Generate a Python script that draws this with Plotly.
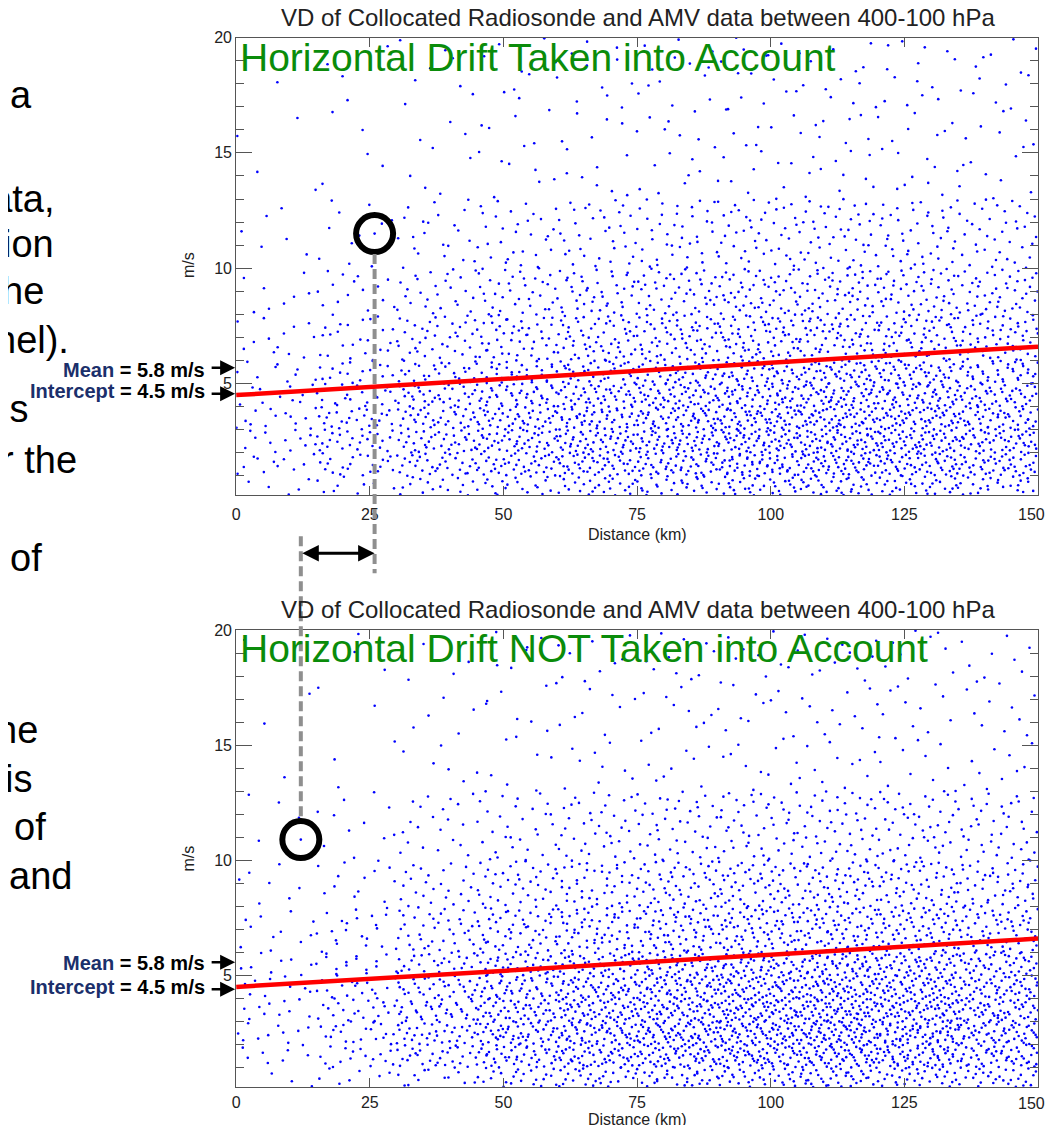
import plotly.graph_objects as go

# ---------------- data ----------------
# Density of the scatter clouds, counted per cell of the grid below
X_EDGES = [0, 15, 30, 45, 60, 75, 90, 105, 120, 135, 150]          # km
Y_EDGES = [0, 1, 2, 3, 4, 5, 6, 8, 10, 13, 20]                      # m/s

# rows = y bins (bottom -> top), columns = x bins (left -> right)
TOP_COUNTS = [
    [6, 11, 18, 24, 30, 33, 36, 38, 36, 30],
    [11, 22, 32, 40, 46, 50, 54, 56, 54, 46],
    [13, 25, 36, 45, 50, 54, 58, 60, 58, 50],
    [13, 25, 36, 44, 49, 53, 56, 58, 56, 48],
    [12, 22, 33, 40, 45, 48, 52, 54, 52, 45],
    [9, 17, 27, 34, 38, 42, 45, 47, 45, 40],
    [13, 24, 39, 50, 58, 63, 68, 70, 68, 60],
    [8, 15, 26, 35, 41, 46, 50, 52, 50, 44],
    [6, 12, 22, 30, 35, 40, 43, 45, 43, 38],
    [5, 9, 16, 22, 25, 28, 31, 33, 31, 28],
]
BOTTOM_COUNTS = [
    [4, 8, 16, 26, 33, 37, 40, 42, 40, 34],
    [8, 16, 30, 44, 52, 58, 62, 64, 60, 50],
    [10, 20, 35, 50, 58, 64, 68, 70, 66, 56],
    [10, 20, 35, 48, 56, 62, 66, 68, 64, 54],
    [9, 18, 32, 44, 52, 57, 61, 62, 59, 50],
    [8, 15, 27, 38, 44, 49, 52, 54, 51, 44],
    [11, 21, 38, 54, 63, 70, 75, 77, 73, 64],
    [7, 13, 25, 37, 44, 50, 54, 56, 53, 46],
    [5, 11, 21, 31, 37, 42, 46, 48, 45, 40],
    [4, 8, 15, 22, 26, 29, 32, 34, 32, 29],
]

# regression lines (distance km -> VD m/s)
FIT_X = [0, 150]
FIT_TOP = [4.5, 6.6]
FIT_BOTTOM = [4.5, 6.6]

# the highlighted (circled) collocation in each panel
HILITE_TOP_X, HILITE_TOP_Y = [25.9], [11.5]
HILITE_BOTTOM_X, HILITE_BOTTOM_Y = [12.1], [10.9]

X_TICKS = [0, 25, 50, 75, 100, 125, 150]
Y_TICKS = [5, 10, 15, 20]

TITLE = "VD of Collocated Radiosonde and AMV data between 400-100 hPa"
LABEL_TOP = "Horizontal Drift Taken into Account"
LABEL_BOTTOM = "Horizontal Drift NOT Taken into Account"
MEAN_TXT = "= 5.8 m/s"
INTERCEPT_TXT = "= 4.5 m/s"

# fragments of slide text visible at the left edge
LEFT_TEXT = [("a", 30, 97), ("data,", 53, 201), ("ion", 52, 246), ("he", 42, 293),
             ("nel).", 67, 342), ("is", 26, 411), ("r the", 75, 463), ("of", 40, 561),
             ("he", 36, 733), ("is", 30, 782), ("of", 44, 830), ("and", 70, 880)]

# ---------------- helpers ----------------
# the page body keeps its default 8px margin, so the figure is 16px smaller
OX, OY = 8, 8
FW, FH = 1040, 1117
def px(x):
    return (x - OX) / FW
def py(y):
    yd = y - 6.3 + 0.0048 * (y - 36)      # small vertical offset seen on screen
    return 1 - (yd - OY) / FH

def halton(i, b):
    f, r = 1.0, 0.0
    while i > 0:
        f /= b
        r += f * (i % b)
        i //= b
    return r

def cloud(counts, offset):
    xs, ys = [], []
    k = offset
    for j, row in enumerate(counts):
        for i, n in enumerate(row):
            for _ in range(n):
                k += 1
                xs.append(X_EDGES[i] + (X_EDGES[i + 1] - X_EDGES[i]) * halton(k, 2))
                ys.append(Y_EDGES[j] + (Y_EDGES[j + 1] - Y_EDGES[j]) * halton(k, 3))
    return xs, ys

FONT = "Liberation Sans, Arial, Helvetica, sans-serif"
BLUE = "#0000ff"

fig = go.Figure()

for counts, fit, hx, hy, xa, ya, off in [
    (TOP_COUNTS, FIT_TOP, HILITE_TOP_X, HILITE_TOP_Y, "x", "y", 17),
    (BOTTOM_COUNTS, FIT_BOTTOM, HILITE_BOTTOM_X, HILITE_BOTTOM_Y, "x2", "y2", 5003),
]:
    xs, ys = cloud(counts, off)
    fig.add_trace(go.Scatter(x=xs, y=ys, mode="markers", xaxis=xa, yaxis=ya,
                             marker=dict(color=BLUE, size=2.6, line=dict(width=0)),
                             hoverinfo="skip", showlegend=False))
    fig.add_trace(go.Scatter(x=FIT_X, y=fit, mode="lines", xaxis=xa, yaxis=ya,
                             line=dict(color="#ff0000", width=4.5), showlegend=False))
    fig.add_trace(go.Scatter(x=hx, y=hy, mode="markers", xaxis=xa, yaxis=ya,
                             marker=dict(color=BLUE, size=2.6), showlegend=False))
    fig.add_trace(go.Scatter(x=hx, y=hy, mode="markers", xaxis=xa, yaxis=ya, cliponaxis=False,
                             marker=dict(symbol="circle-open", size=37, color="black",
                                         line=dict(color="black", width=6)),
                             showlegend=False))

x_dom = [px(233), px(1038)]
top_dom = [py(495), py(36)]
bot_dom = [py(1088), py(630)]

def xaxis(anchor, standoff):
    # the last label ("150") would run past the page edge, so it is written as a note below
    return dict(domain=x_dom, range=[0, 150], anchor=anchor, tickvals=X_TICKS,
                ticktext=[str(v) if v != X_TICKS[-1] else "" for v in X_TICKS],
                ticks="inside", ticklen=9, tickcolor="#555", showline=True, linecolor="#555",
                linewidth=1, mirror="ticks", showgrid=False, zeroline=False,
                tickfont=dict(family=FONT, size=16, color="#222"), ticklabelstandoff=standoff)

def yaxis(dom, anchor):
    return dict(domain=dom, range=[0.15, 20], anchor=anchor, tickvals=Y_TICKS,
                ticks="inside", ticklen=16, tickcolor="#555", showline=True, linecolor="#555",
                linewidth=1, mirror="ticks", showgrid=False, zeroline=False,
                minor=dict(ticks="inside", ticklen=8, dtick=1, tick0=0, tickcolor="#555",
                           showgrid=False),
                tickfont=dict(family=FONT, size=16, color="#222"))

def note(text, x, y, size, color="black", xanchor="center", **kw):
    return dict(text=text, x=px(x), y=py(y - 0.08 * size), xref="paper", yref="paper",
                xanchor=xanchor, yanchor="middle", showarrow=False,
                font=dict(family=FONT, size=size, color=color), **kw)

ann = []
for ttl_y, lab, lab_y, axis_mid, dist_y, lab150_y in [
        (18, LABEL_TOP, 59, 265, 535, 515), (611, LABEL_BOTTOM, 652, 860, 1122, 1106)]:
    ann.append(note(TITLE, 636, ttl_y, 24, "#222"))
    ann.append(note(lab, 235, lab_y, 39, "#0a8c0a", xanchor="left"))
    ann.append(note("m/s", 185, axis_mid, 16, "#222", textangle=-90))
    ann.append(note("Distance (km)", 636, dist_y, 16, "#222"))
    ann.append(note(str(X_TICKS[-1]), 1047, lab150_y, 16, "#222", xanchor="right"))

NAVY = "#1b2f6b"
for mean_y, int_y, mean_arr, int_arr in [(371, 392, 367, 393), (965, 989, 963, 990)]:
    ann.append(note(f"<b><span style='color:{NAVY}'>Mean</span> {MEAN_TXT}</b>",
                    204, mean_y, 20, xanchor="right"))
    ann.append(note(f"<b><span style='color:{NAVY}'>Intercept</span> {INTERCEPT_TXT}</b>",
                    204, int_y, 20, xanchor="right"))
    for ay_ in (mean_arr, int_arr):
        ann.append(dict(text="", x=px(232), y=py(ay_), ax=-25, ay=0,
                        xref="paper", yref="paper", axref="pixel", ayref="pixel",
                        showarrow=True, arrowhead=2, arrowsize=1.2, arrowwidth=2.5,
                        arrowcolor="black"))

# double arrow between the two circled positions
ann.append(dict(text="", x=HILITE_TOP_X[0], ax=HILITE_BOTTOM_X[0], xref="x", axref="x",
                y=py(553), ay=0, yref="paper", ayref="pixel", showarrow=True,
                arrowhead=2, arrowside="end+start", arrowsize=1.1, arrowwidth=3,
                arrowcolor="black"))

for txt, right, yc in LEFT_TEXT:
    ann.append(note(txt, right, yc, 38, xanchor="right"))

shapes = [
    dict(type="line", xref="x", yref="paper", x0=HILITE_TOP_X[0], x1=HILITE_TOP_X[0],
         y0=py(253), y1=py(573), line=dict(color="#8f8f8f", width=4, dash="10px,5px")),
    dict(type="line", xref="x", yref="paper", x0=HILITE_BOTTOM_X[0], x1=HILITE_BOTTOM_X[0],
         y0=py(536), y1=py(819), line=dict(color="#8f8f8f", width=4, dash="10px,5px")),
]

fig.update_layout(
    width=FW, height=FH, margin=dict(l=0, r=0, t=0, b=0),
    paper_bgcolor="white", plot_bgcolor="white", showlegend=False,
    xaxis=xaxis("y", 4), yaxis=yaxis(top_dom, "x"),
    xaxis2=xaxis("y2", 1), yaxis2=yaxis(bot_dom, "x2"),
    annotations=ann, shapes=shapes,
)

fig.write_html("out.html", config={"displayModeBar": False})
